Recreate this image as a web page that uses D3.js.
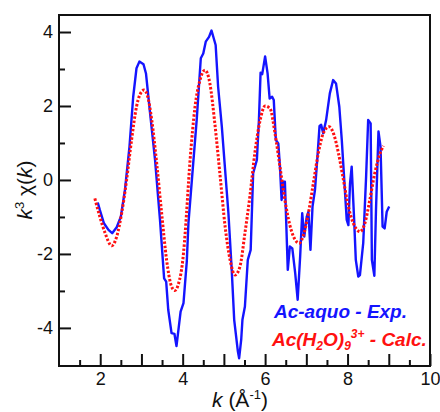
<!DOCTYPE html>
<html>
<head>
<meta charset="utf-8">
<script src="https://cdn.jsdelivr.net/npm/d3@7"></script>
<style>
  html, body { margin: 0; padding: 0; background: #fff; }
  svg { display: block; font-family: "Liberation Sans", Arial, sans-serif; }
</style>
</head>
<body>
<svg id="chart" width="440" height="412"></svg>
<script>
// EXAFS k^3-weighted chi(k): experimental spectrum vs. calculated model
const kExp = [1.94, 1.99, 2.09, 2.20, 2.29, 2.40, 2.50, 2.60, 2.71, 2.80, 2.88, 2.95, 3.05, 3.11, 3.21, 3.33, 3.45, 3.55, 3.60, 3.65, 3.73, 3.80, 3.85, 3.95, 4.02, 4.10, 4.14, 4.23, 4.34, 4.44, 4.50, 4.56, 4.64, 4.70, 4.80, 4.86, 4.95, 5.03, 5.11, 5.19, 5.25, 5.34, 5.37, 5.42, 5.45, 5.51, 5.58, 5.65, 5.71, 5.80, 5.85, 5.89, 5.93, 6.00, 6.06, 6.11, 6.17, 6.21, 6.26, 6.32, 6.36, 6.40, 6.44, 6.48, 6.55, 6.60, 6.66, 6.73, 6.79, 6.85, 6.90, 6.95, 7.01, 7.05, 7.10, 7.15, 7.21, 7.27, 7.32, 7.36, 7.41, 7.48, 7.57, 7.65, 7.72, 7.80, 7.86, 7.91, 7.98, 8.02, 8.06, 8.10, 8.16, 8.20, 8.26, 8.30, 8.38, 8.45, 8.50, 8.56, 8.59, 8.65, 8.69, 8.75, 8.80, 8.85, 8.90, 8.95, 9.01];
const chiExp = [-0.61, -0.81, -1.17, -1.35, -1.44, -1.28, -0.99, -0.27, 0.90, 2.25, 3.02, 3.20, 3.13, 2.88, 1.80, 0.54, -1.08, -2.66, -2.75, -3.51, -4.14, -4.16, -4.49, -3.56, -3.33, -2.20, -1.17, 0.09, 1.62, 3.29, 3.42, 3.74, 3.87, 4.04, 3.65, 2.52, 1.44, 0.27, -0.90, -2.43, -3.78, -4.64, -4.82, -4.32, -3.78, -3.42, -2.16, -1.89, 0.18, 0.54, 1.62, 2.90, 2.86, 3.34, 2.88, 2.20, 2.25, 2.16, 1.08, 0.99, 0.36, -0.54, -0.05, -0.05, -2.43, -1.80, -1.85, -2.52, -3.24, -2.07, -0.90, -1.53, -0.99, -0.86, -1.89, -0.72, -0.27, 0.63, 1.46, 1.49, 1.26, 1.62, 2.34, 2.70, 2.61, 1.98, 1.08, 0.18, -1.08, -1.22, -0.09, 0.36, -1.08, -2.16, -2.61, -2.57, -1.71, 0.09, 1.62, 1.53, -2.16, -2.59, -0.81, 1.31, 0.90, -1.26, -1.31, -0.86, -0.72];

const kCalc = [1.87, 1.99, 2.12, 2.28, 2.40, 2.52, 2.64, 2.76, 2.88, 2.96, 3.06, 3.14, 3.25, 3.37, 3.49, 3.61, 3.73, 3.81, 3.89, 4.02, 4.06, 4.18, 4.30, 4.42, 4.54, 4.66, 4.78, 4.91, 5.03, 5.15, 5.27, 5.39, 5.51, 5.63, 5.75, 5.88, 6.00, 6.12, 6.24, 6.36, 6.48, 6.60, 6.73, 6.83, 6.93, 7.05, 7.17, 7.29, 7.41, 7.55, 7.67, 7.78, 7.90, 8.02, 8.14, 8.26, 8.30, 8.42, 8.54, 8.66, 8.79, 8.87];
const chiCalc = [-0.50, -0.99, -1.44, -1.78, -1.53, -0.90, 0.00, 1.08, 1.98, 2.30, 2.43, 2.30, 1.62, 0.45, -0.90, -2.16, -2.88, -2.99, -2.84, -1.98, -1.44, 0.54, 1.98, 2.70, 2.97, 2.61, 1.53, 0.09, -1.26, -2.16, -2.57, -2.34, -1.44, -0.45, 0.72, 1.62, 2.00, 1.93, 1.26, 0.36, -0.54, -1.22, -1.62, -1.71, -1.49, -0.90, -0.09, 0.72, 1.26, 1.44, 1.22, 0.72, 0.00, -0.72, -1.17, -1.38, -1.40, -1.17, -0.54, 0.18, 0.72, 0.92];

const xMajor = [2, 3, 4, 5, 6, 7, 8, 9, 10];
const xLabelled = [2, 4, 6, 8, 10];
const xMinor = [1.5, 2.5, 3.5, 4.5, 5.5, 6.5, 7.5, 8.5, 9.5];
const yMajor = [-4, -2, 0, 2, 4];
const yMinor = [-3, -1, 1, 3];

const svg = d3.select("#chart");
const plotL = 59, plotR = 430, plotT = 15, plotB = 366;

const x = d3.scaleLinear().domain([1, 10]).range([plotL, plotR]);
const y = d3.scaleLinear().domain([-5.03, 4.46]).range([plotB, plotT]);

// tick labels use a plain hyphen for negatives
const fmt = d => String(d);

// curves
const expLine = d3.line().x(d => x(d[0])).y(d => y(d[1])).curve(d3.curveLinear);
const calcLine = d3.line().x(d => x(d[0])).y(d => y(d[1])).curve(d3.curveMonotoneX);

svg.append("path")
  .datum(d3.zip(kExp, chiExp))
  .attr("d", expLine)
  .attr("fill", "none")
  .attr("stroke", "#1414ff")
  .attr("stroke-width", 2.4)
  .attr("stroke-linejoin", "round");

svg.append("path")
  .datum(d3.zip(kCalc, chiCalc))
  .attr("d", calcLine)
  .attr("fill", "none")
  .attr("stroke", "#ff1010")
  .attr("stroke-width", 3)
  .attr("stroke-dasharray", "2.4,1.8");

// frame
svg.append("rect")
  .attr("x", plotL).attr("y", plotT)
  .attr("width", plotR - plotL).attr("height", plotB - plotT)
  .attr("fill", "none").attr("stroke", "#111").attr("stroke-width", 2);

// axes with inward ticks
function styleAxis(g) {
  g.select(".domain").remove();
  g.selectAll(".tick line").attr("stroke", "#111").attr("stroke-width", 2);
  g.selectAll(".tick text").attr("fill", "#111").attr("font-size", 18)
    .attr("font-family", "'Liberation Sans', Arial, sans-serif");
}

svg.append("g").attr("transform", `translate(0,${plotB})`)
  .call(d3.axisBottom(x).tickValues(xMajor).tickSize(-12).tickPadding(6)
    .tickFormat(d => xLabelled.includes(d) ? fmt(d) : ""))
  .call(styleAxis);
svg.append("g").attr("transform", `translate(0,${plotB})`)
  .call(d3.axisBottom(x).tickValues(xMinor).tickSize(-6).tickFormat(""))
  .call(styleAxis);

svg.append("g").attr("transform", `translate(${plotL},0)`)
  .call(d3.axisLeft(y).tickValues(yMajor).tickSize(-12).tickPadding(6).tickFormat(fmt))
  .call(styleAxis);
svg.append("g").attr("transform", `translate(${plotL},0)`)
  .call(d3.axisLeft(y).tickValues(yMinor).tickSize(-6).tickFormat(""))
  .call(styleAxis);

// axis titles
const xt = svg.append("text")
  .attr("x", 240).attr("y", 407)
  .attr("text-anchor", "middle").attr("font-size", 21).attr("fill", "#111");
xt.append("tspan").attr("font-style", "italic").text("k");
xt.append("tspan").text(" (Å");
xt.append("tspan").attr("font-size", 13).attr("dy", -8).text("-1");
xt.append("tspan").attr("dy", 8).text(")");

const yt = svg.append("text")
  .attr("transform", "translate(32,190) rotate(-90)")
  .attr("text-anchor", "middle").attr("font-size", 21).attr("fill", "#111");
yt.append("tspan").attr("font-style", "italic").text("k");
yt.append("tspan").attr("font-size", 13).attr("dy", -8).text("3");
yt.append("tspan").attr("dy", 8).text(" χ(");
yt.append("tspan").attr("font-style", "italic").text("k");
yt.append("tspan").text(")");

// legend
svg.append("text")
  .attr("x", 274).attr("y", 318)
  .attr("font-size", 19).attr("font-weight", "bold").attr("font-style", "italic")
  .attr("fill", "#1414ff")
  .text("Ac-aquo - Exp.");

const leg2 = svg.append("text")
  .attr("x", 272).attr("y", 346)
  .attr("font-size", 19).attr("font-weight", "bold").attr("font-style", "italic")
  .attr("fill", "#ff1010");
leg2.append("tspan").text("Ac(H");
leg2.append("tspan").attr("font-size", 12).attr("dy", 4).text("2");
leg2.append("tspan").attr("dy", -4).text("O)");
leg2.append("tspan").attr("font-size", 12).attr("dy", 4).text("9");
leg2.append("tspan").attr("font-size", 12).attr("dy", -12).text("3+");
leg2.append("tspan").attr("dy", 8).text(" - Calc.");
</script>
</body>
</html>
